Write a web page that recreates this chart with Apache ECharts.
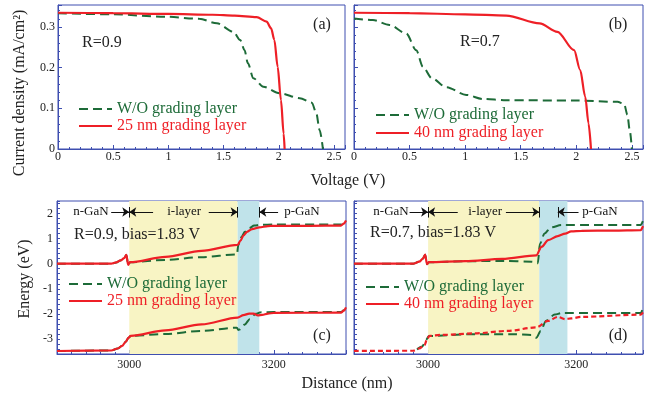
<!DOCTYPE html>
<html>
<head>
<meta charset="utf-8">
<script src="https://cdn.jsdelivr.net/npm/echarts@6/dist/echarts.min.js"></script>
<style>
  html, body { margin: 0; padding: 0; background: #fff; }
  #chart { width: 665px; height: 401px; }
</style>
</head>
<body>
<div id="chart"></div>
<script>
// (a) R=0.9 : J-V curves
var voltWoA = [0, 0.5, 0.98, 1.28, 1.44, 1.59, 1.65, 1.69, 1.72, 1.77, 1.86, 2.01, 2.19, 2.30, 2.34, 2.37, 2.40];
var jWoA = [0.334, 0.331, 0.325, 0.320, 0.309, 0.288, 0.268, 0.243, 0.211, 0.174, 0.153, 0.137, 0.125, 0.114, 0.088, 0.047, 0];
var voltGradA = [0, 0.5, 1.0, 1.4, 1.6, 1.8, 1.89, 1.93, 1.96, 1.99, 2.02, 2.044, 2.053];
var jGradA = [0.335, 0.334, 0.332, 0.330, 0.328, 0.324, 0.313, 0.297, 0.268, 0.202, 0.12, 0.038, 0];

// (b) R=0.7 : J-V curves
var voltWoB = [0, 0.17, 0.32, 0.47, 0.56, 0.62, 0.70, 0.83, 1.01, 1.16, 1.37, 2.0, 2.37, 2.43, 2.46, 2.48, 2.50];
var jWoB = [0.321, 0.317, 0.305, 0.284, 0.243, 0.202, 0.174, 0.152, 0.133, 0.123, 0.120, 0.119, 0.116, 0.111, 0.084, 0.047, 0];
var voltGradB = [0, 0.5, 1.0, 1.37, 1.67, 1.83, 1.98, 2.035, 2.08, 2.11, 2.132];
var jGradB = [0.335, 0.334, 0.331, 0.328, 0.309, 0.288, 0.243, 0.194, 0.129, 0.063, 0];

// (c) R=0.9 band diagram
var distRedUpC = [2900, 2975, 2982, 2988, 2993, 2996, 2998.5, 3001, 3050, 3100, 3150, 3154, 3158, 3163, 3170, 3180, 3192, 3200, 3250, 3293, 3297, 3300];
var eRedUpC = [0, 0, 0.05, 0.13, 0.22, 0.35, -0.05, 0.06, 0.27, 0.51, 0.75, 0.92, 1.12, 1.27, 1.38, 1.45, 1.50, 1.51, 1.51, 1.52, 1.6, 1.72];
var distGreenUpC = [2900, 2975, 2982, 2988, 2993, 2996, 2998.5, 3001, 3050, 3100, 3149, 3151, 3155, 3160, 3166, 3173, 3182, 3200, 3293, 3297, 3300];
var eGreenUpC = [0, 0, 0.05, 0.13, 0.22, 0.35, -0.05, 0.06, 0.15, 0.26, 0.37, 0.75, 1.05, 1.27, 1.42, 1.52, 1.55, 1.56, 1.56, 1.63, 1.72];
var distRedLowC = [2900, 2975, 2984, 2990, 2995, 2999, 3002, 3050, 3100, 3150, 3158, 3166, 3172, 3178, 3184, 3192, 3200, 3293, 3297, 3300];
var eRedLowC = [-3.48, -3.46, -3.38, -3.28, -3.12, -2.95, -2.88, -2.66, -2.42, -2.15, -2.05, -1.99, -1.99, -2.06, -2.04, -1.99, -1.96, -1.95, -1.87, -1.74];
var distGreenLowC = [2900, 2975, 2984, 2990, 2995, 2999, 3002, 3050, 3100, 3149, 3151, 3153, 3160, 3167, 3175, 3182, 3200, 3293, 3297, 3300];
var eGreenLowC = [-3.48, -3.46, -3.38, -3.28, -3.12, -2.95, -2.88, -2.8, -2.68, -2.55, -2.64, -2.62, -2.42, -2.2, -2.0, -1.94, -1.93, -1.93, -1.86, -1.74];

// (d) R=0.7 band diagram
var distRedUpD = [2900, 2980, 2988, 2993, 2996, 2998.5, 3001, 3050, 3100, 3146, 3153, 3162, 3175, 3185, 3193, 3207, 3250, 3287, 3290];
var eRedUpD = [0, 0, 0.08, 0.2, 0.36, -0.02, 0.06, 0.1, 0.19, 0.33, 0.67, 0.94, 1.1, 1.2, 1.29, 1.31, 1.32, 1.34, 1.5];
var distGreenUpD = [2900, 2980, 2988, 2993, 2996, 2998.5, 3001, 3050, 3100, 3140, 3148, 3151, 3157, 3166, 3180, 3287, 3290];
var eGreenUpD = [0, 0, 0.08, 0.2, 0.36, -0.02, 0.06, 0.1, 0.11, 0.08, 0.02, 0.8, 1.2, 1.45, 1.54, 1.54, 1.71];
var distRedLowD = [2900, 2980, 2988, 2995, 2999, 3002, 3017, 3062, 3107, 3146, 3162, 3175, 3185, 3193, 3207, 3287, 3290];
var eRedLowD = [-3.48, -3.47, -3.38, -3.25, -2.98, -2.88, -2.84, -2.78, -2.68, -2.54, -2.28, -2.12, -2.21, -2.18, -2.12, -2.03, -1.94];
var distGreenLowD = [2985, 2992, 2997, 3001, 3062, 3116, 3139, 3146, 3152, 3159, 3171, 3180, 3287, 3290];
var eGreenLowD = [-3.42, -3.3, -3.05, -2.88, -2.81, -2.81, -2.84, -2.95, -2.68, -2.28, -2.03, -1.97, -1.97, -1.77];

// layer boundaries (nm): i-layer start, grading start, grading end
var layersC = [3000, 3150, 3180];
var layersD = [3000, 3150, 3188];

var FONT = 'Liberation Serif';
var BLUE = '#3f4fb0';
var GREEN = '#1d6b38';
var RED = '#ee1f26';
var YELLOW = '#f8f4c4';
var CYAN = '#c0e3ea';

function pairs(xs, ys) {
  return xs.map(function(x, i) { return [x, ys[i]]; });
}

function multipleOf(v, step) {
  var k = Math.round(v / step);
  return Math.abs(v / step - k) < 1e-6 ? k : null;
}

function axis(opt) {
  return {
    gridIndex: opt.grid,
    type: 'value',
    min: opt.min,
    max: opt.max,
    interval: opt.interval,
    axisLine: { show: true, onZero: false, lineStyle: { color: BLUE, width: 1 } },
    axisTick: { show: true, inside: true, length: opt.tick || 4, lineStyle: { color: BLUE } },
    minorTick: { show: !!opt.minor, splitNumber: opt.minor || 5, length: 2, lineStyle: { color: BLUE } },
    splitLine: { show: false },
    axisLabel: {
      show: opt.labels !== false,
      color: '#222',
      fontFamily: FONT,
      fontSize: 12,
      margin: opt.margin || 3,
      formatter: opt.formatter
    }
  };
}

var fmtVolt = function(v) { var k = multipleOf(v, 0.5); return k === null ? '' : String(k / 2); };
var fmtJ = function(v) { var k = multipleOf(v, 0.1); return k === null ? '' : String(k / 10); };
var fmtDist = function(v) { var r = Math.round(v); return (r === 3000 || r === 3200) ? String(r) : ''; };
var fmtE = function(v) { var k = multipleOf(v, 1); return k === null ? '' : String(k); };

function curve(name, idx, data, color, dash, width) {
  return {
    type: 'line', name: name, xAxisIndex: idx, yAxisIndex: idx,
    data: data, symbol: 'none', showSymbol: false, z: 2,
    smooth: 0.3, smoothMonotone: 'x',
    lineStyle: { color: color, width: width || 2, type: dash || 'solid' },
    itemStyle: { color: color }
  };
}

function bands(idx, layers) {
  return {
    type: 'line', name: '_bands' + idx, xAxisIndex: idx, yAxisIndex: idx, data: [], z: 1, silent: true,
    markArea: {
      silent: true,
      data: [
        [{ xAxis: layers[0], itemStyle: { color: YELLOW } }, { xAxis: layers[1] }],
        [{ xAxis: layers[1], itemStyle: { color: CYAN } }, { xAxis: layers[2] }]
      ]
    }
  };
}

// n-GaN / i-layer / p-GaN arrows across the top of a band panel
function regionLabels(idx, layers, p) {
  var y = 2.06, lo = 1.84, hi = 2.26;
  function seg(x1, y1, x2, y2, head) {
    return [{ coord: [x1, y1], symbol: 'none' }, { coord: [x2, y2], symbol: head ? 'arrow' : 'none' }];
  }
  return {
    type: 'line', name: '_labels' + idx, xAxisIndex: idx, yAxisIndex: idx, data: [], z: 5, silent: true,
    markLine: {
      silent: true,
      symbolSize: 7,
      label: { show: false },
      lineStyle: { color: '#111', width: 1, type: 'solid' },
      data: [
        seg(p.nArrow, y, layers[0], y, true),
        seg(layers[0], lo, layers[0], hi),
        seg(p.iLeft, y, layers[0], y, true),
        seg(p.iRight, y, layers[1], y, true),
        seg(layers[1], lo, layers[1], hi),
        seg(p.pBar, lo, p.pBar, hi),
        seg(p.pArrow, y, p.pBar, y, true)
      ]
    },
    markPoint: {
      silent: true,
      symbol: 'rect',
      symbolSize: 1,
      itemStyle: { color: 'transparent' },
      label: { show: true, position: 'inside', color: '#111', fontFamily: FONT, fontSize: 13, formatter: '{b}' },
      data: [
        { name: 'n-GaN', coord: [p.nText, y] },
        { name: 'i-layer', coord: [p.iText, y] },
        { name: 'p-GaN', coord: [p.pText, y] }
      ]
    }
  };
}

function legendAt(left, top, gap, names) {
  return {
    left: left, top: top, orient: 'vertical', padding: 0,
    itemWidth: 33, itemHeight: 12, itemGap: gap, selectedMode: false,
    // hide the marker dot, keep only the line sample
    itemStyle: { color: 'rgba(0,0,0,0)', borderColor: 'rgba(0,0,0,0)', borderWidth: 0 },
    textStyle: { fontFamily: FONT, fontSize: 16, lineHeight: 16 },
    data: names.map(function(n) {
      return { name: n, textStyle: { color: n.indexOf('W/O') === 0 ? GREEN : RED } };
    })
  };
}

function txt(s, x, y, align, size, rot) {
  return {
    type: 'text', x: x, y: y, rotation: rot || 0, z: 10, silent: true,
    style: {
      text: s, fill: '#222', font: (size || 16) + 'px "' + FONT + '"',
      align: align || 'left', verticalAlign: 'middle',
      textAlign: align || 'left', textVerticalAlign: 'middle'
    }
  };
}

var chart = echarts.init(document.getElementById('chart'));

var option = {
  animation: false,
  backgroundColor: '#fff',
  grid: [
    { left: 58, top: 5, width: 287, height: 144, show: true, borderColor: BLUE, borderWidth: 1 },
    { left: 354, top: 5, width: 289, height: 144, show: true, borderColor: BLUE, borderWidth: 1 },
    { left: 57, top: 201, width: 289, height: 153, show: true, borderColor: BLUE, borderWidth: 1 },
    { left: 354, top: 201, width: 289, height: 153, show: true, borderColor: BLUE, borderWidth: 1 }
  ],
  xAxis: [
    axis({ grid: 0, min: 0, max: 2.6, interval: 0.5, minor: 5, formatter: fmtVolt, margin: 2 }),
    axis({ grid: 1, min: 0, max: 2.6, interval: 0.5, minor: 5, formatter: fmtVolt, margin: 2 }),
    axis({ grid: 2, min: 2900, max: 3300, interval: 100, minor: 5, formatter: fmtDist, margin: 5 }),
    axis({ grid: 3, min: 2900, max: 3290, interval: 100, minor: 5, formatter: fmtDist, margin: 5 })
  ],
  yAxis: [
    axis({ grid: 0, min: 0, max: 0.354, interval: 0.1, minor: 5, formatter: fmtJ, margin: 3 }),
    axis({ grid: 1, min: 0, max: 0.354, interval: 0.1, minor: 5, labels: false }),
    axis({ grid: 2, min: -3.6, max: 2.5, interval: 0.2, tick: 3, formatter: fmtE, margin: 4 }),
    axis({ grid: 3, min: -3.6, max: 2.5, interval: 0.2, tick: 3, labels: false })
  ],
  legend: [
    legendAt(78, 101, 1, ['W/O grading layer', '25 nm grading layer']),
    legendAt(375, 107, 2, ['W/O grading layer', '40 nm grading layer']),
    legendAt(68, 276, 1, ['W/O grading layer', '25 nm grading layer']),
    legendAt(365, 279, 1, ['W/O grading layer', '40 nm grading layer'])
  ],
  series: [
    curve('W/O grading layer', 0, pairs(voltWoA, jWoA), GREEN, [9, 5]),
    curve('25 nm grading layer', 0, pairs(voltGradA, jGradA), RED, 'solid', 2.2),
    curve('W/O grading layer', 1, pairs(voltWoB, jWoB), GREEN, [9, 5]),
    curve('40 nm grading layer', 1, pairs(voltGradB, jGradB), RED, 'solid', 2.2),

    bands(2, layersC),
    curve('W/O grading layer', 2, pairs(distGreenUpC, eGreenUpC), GREEN, [9, 5]),
    curve('W/O Ev c', 2, pairs(distGreenLowC, eGreenLowC), GREEN, [9, 5]),
    curve('25 nm grading layer', 2, pairs(distRedUpC, eRedUpC), RED, 'solid', 2.2),
    curve('25 nm Ev c', 2, pairs(distRedLowC, eRedLowC), RED, 'solid', 2.2),
    regionLabels(2, layersC, { nText: 2947, nArrow: 2975, iLeft: 3033, iText: 3076, iRight: 3110, pBar: 3180, pArrow: 3206, pText: 3239 }),

    bands(3, layersD),
    curve('W/O grading layer', 3, pairs(distGreenUpD, eGreenUpD), GREEN, [9, 5]),
    curve('W/O Ev d', 3, pairs(distGreenLowD, eGreenLowD), GREEN, [9, 5]),
    curve('40 nm grading layer', 3, pairs(distRedUpD, eRedUpD), RED, 'solid', 2.2),
    curve('40 nm Ev d', 3, pairs(distRedLowD, eRedLowD), RED, [5, 3], 2.2),
    regionLabels(3, layersD, { nText: 2950, nArrow: 2975, iLeft: 3040, iText: 3077, iRight: 3105, pBar: 3175, pArrow: 3203, pText: 3232 })
  ],
  graphic: [
    txt('(a)', 322, 25, 'center', 16),
    txt('R=0.9', 82, 43, 'left', 16),
    txt('(b)', 618, 25, 'center', 16),
    txt('R=0.7', 460, 42, 'left', 16),
    txt('(c)', 322, 336, 'center', 16),
    txt('R=0.9, bias=1.83 V', 74, 235, 'left', 16),
    txt('(d)', 618, 336, 'center', 16),
    txt('R=0.7, bias=1.83 V', 370, 233, 'left', 16),
    txt('Voltage (V)', 348, 181, 'center', 16),
    txt('Distance (nm)', 347, 384, 'center', 16),
    txt('Current density (mA/cm²)', 20, 93, 'center', 16, Math.PI / 2),
    txt('Energy (eV)', 25, 279, 'center', 16, Math.PI / 2)
  ]
};

chart.setOption(option);
</script>
</body>
</html>
